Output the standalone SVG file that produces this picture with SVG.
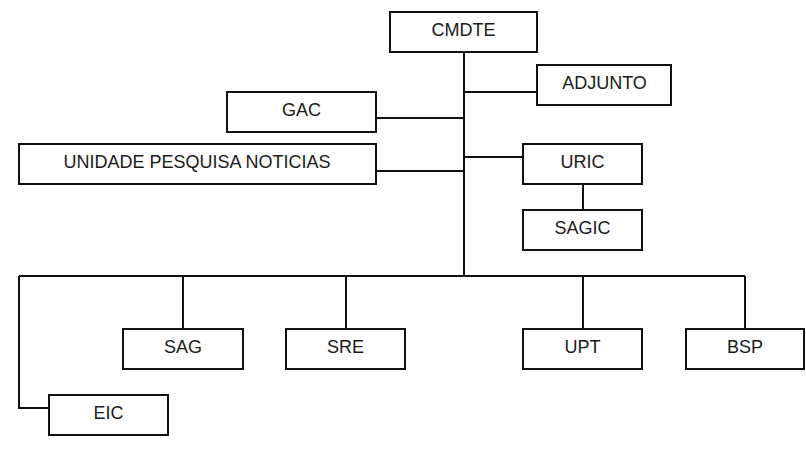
<svg xmlns="http://www.w3.org/2000/svg" width="806" height="450" viewBox="0 0 806 450">
<style>
.box{fill:#fff;stroke:#111;stroke-width:2}
.lbl{font-family:"Liberation Sans",Arial,sans-serif;font-size:18px;fill:#1a1a1a;text-anchor:middle;dominant-baseline:central}
.ln{fill:none;stroke:#111;stroke-width:2}
</style>
<rect width="806" height="450" fill="#fff"/>
<g id="connectors">
<path class="ln" d="M464,52V276"/>
<path class="ln" d="M464,92H537"/>
<path class="ln" d="M376,118H464"/>
<path class="ln" d="M376,171H464"/>
<path class="ln" d="M464,157H523"/>
<path class="ln" d="M583,184V210"/>
<path class="ln" d="M19,276H745"/>
<path class="ln" d="M183,276V329"/>
<path class="ln" d="M346,276V329"/>
<path class="ln" d="M583,276V329"/>
<path class="ln" d="M745,276V329"/>
<path class="ln" d="M19,276V408H49"/>
</g>
<g id="cmdte"><rect class="box" x="390" y="12" width="147" height="40"/><text class="lbl" x="463.5" y="30">CMDTE</text></g>
<g id="adjunto"><rect class="box" x="537" y="65" width="134" height="40"/><text class="lbl" x="604.5" y="83">ADJUNTO</text></g>
<g id="gac"><rect class="box" x="227" y="92" width="149" height="40"/><text class="lbl" x="301.5" y="110">GAC</text></g>
<g id="unidade"><rect class="box" x="19" y="144" width="357" height="40"/><text class="lbl" x="197" y="162">UNIDADE PESQUISA NOTICIAS</text></g>
<g id="uric"><rect class="box" x="523" y="144" width="119" height="40"/><text class="lbl" x="582.5" y="162">URIC</text></g>
<g id="sagic"><rect class="box" x="523" y="210" width="119" height="40"/><text class="lbl" x="582.5" y="228">SAGIC</text></g>
<g id="sag"><rect class="box" x="123" y="329" width="120" height="40"/><text class="lbl" x="183" y="347">SAG</text></g>
<g id="sre"><rect class="box" x="286" y="329" width="119" height="40"/><text class="lbl" x="345.5" y="347">SRE</text></g>
<g id="upt"><rect class="box" x="523" y="329" width="119" height="40"/><text class="lbl" x="582.5" y="347">UPT</text></g>
<g id="bsp"><rect class="box" x="686" y="329" width="118" height="40"/><text class="lbl" x="745" y="347">BSP</text></g>
<g id="eic"><rect class="box" x="49" y="395" width="119" height="40"/><text class="lbl" x="108.5" y="413">EIC</text></g>
</svg>
